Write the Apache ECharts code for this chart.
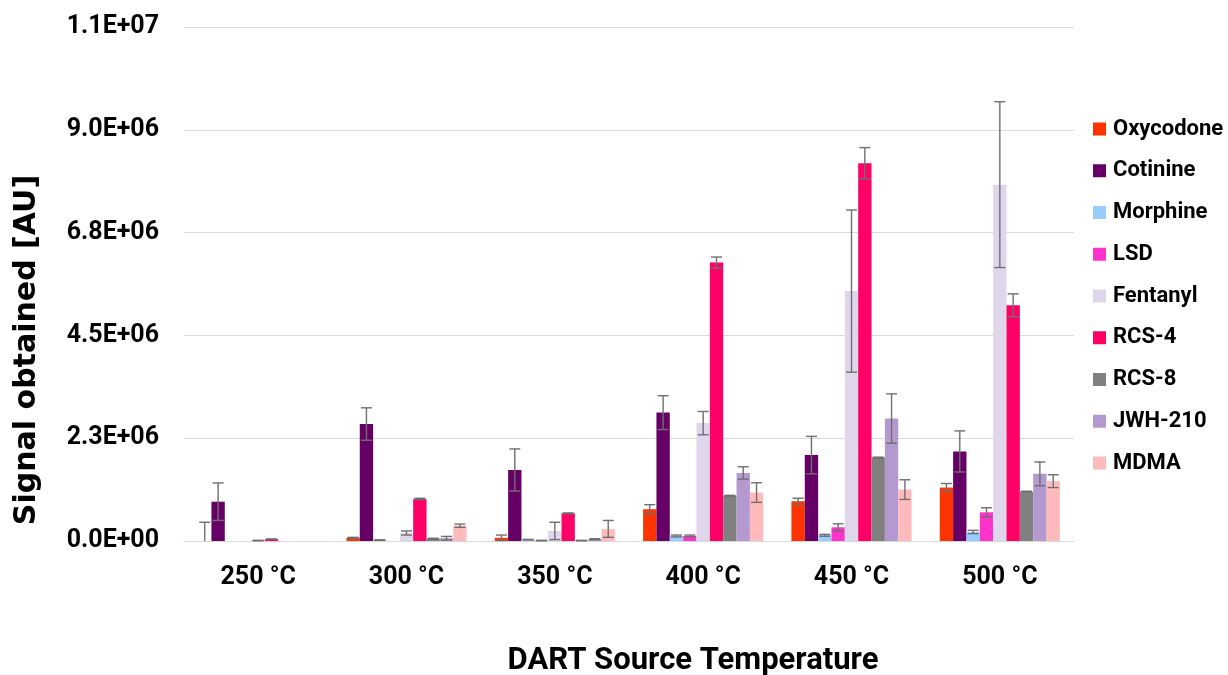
<!DOCTYPE html>
<html><head><meta charset="utf-8">
<script src="https://cdn.jsdelivr.net/npm/echarts@6/dist/echarts.min.js"></script>
<style>html,body{margin:0;padding:0;background:#fff}#c{width:1228px;height:675px}</style>
</head><body><div id="c"></div>
<script>
const categories = ['250 °C', '300 °C', '350 °C', '400 °C', '450 °C', '500 °C'];
const seriesNames = ['Oxycodone', 'Cotinine', 'Morphine', 'LSD', 'Fentanyl', 'RCS-4', 'RCS-8', 'JWH-210', 'MDMA'];
const seriesColors = ['#FF3300', '#660066', '#99CCFF', '#FF33CC', '#E0D6EC', '#FF0066', '#808080', '#B399D0', '#FFBBBB'];

const oxycodone = [0, 0.07e6, 0.07e6, 0.695e6, 0.87e6, 1.17e6];
const cotinine  = [0.86e6, 2.56e6, 1.555e6, 2.81e6, 1.88e6, 1.96e6];
const morphine  = [0, 0.02e6, 0.03e6, 0.11e6, 0.125e6, 0.197e6];
const lsd       = [0, 0, 0.01e6, 0.11e6, 0.30e6, 0.628e6];
const fentanyl  = [0.01e6, 0.175e6, 0.22e6, 2.58e6, 5.47e6, 7.80e6];
const rcs4      = [0.04e6, 0.92e6, 0.605e6, 6.095e6, 8.27e6, 5.16e6];
const rcs8      = [0, 0.05e6, 0.01e6, 0.99e6, 1.825e6, 1.08e6];
const jwh210    = [0, 0.06e6, 0.04e6, 1.49e6, 2.68e6, 1.47e6];
const mdma      = [0, 0.335e6, 0.265e6, 1.06e6, 1.125e6, 1.31e6];

const oxycodoneErr = [0.41e6, 0.01e6, 0.06e6, 0.10e6, 0.066e6, 0.088e6];
const cotinineErr  = [0.41e6, 0.355e6, 0.46e6, 0.37e6, 0.41e6, 0.45e6];
const morphineErr  = [0, 0.005e6, 0.005e6, 0.02e6, 0.02e6, 0.036e6];
const lsdErr       = [0, 0, 0.005e6, 0.02e6, 0.077e6, 0.10e6];
const fentanylErr  = [0.005e6, 0.045e6, 0.19e6, 0.255e6, 1.775e6, 1.815e6];
const rcs4Err      = [0.005e6, 0.015e6, 0.01e6, 0.12e6, 0.34e6, 0.25e6];
const rcs8Err      = [0, 0.01e6, 0.005e6, 0.01e6, 0.01e6, 0.01e6];
const jwh210Err    = [0, 0.04e6, 0.01e6, 0.135e6, 0.54e6, 0.26e6];
const mdmaErr      = [0, 0.035e6, 0.185e6, 0.215e6, 0.215e6, 0.14e6];

const yMin = 0, yMax = 11250000, yInterval = 2250000;

const allValues = [oxycodone, cotinine, morphine, lsd, fentanyl, rcs4, rcs8, jwh210, mdma];
const allErrors = [oxycodoneErr, cotinineErr, morphineErr, lsdErr, fentanylErr, rcs4Err, rcs8Err, jwh210Err, mdmaErr];

const FONT = 'Roboto';
const CAT_GAP = 0.19;
const N = seriesNames.length;

function fmtExp(v) {
  if (v === 0) return '0.0E+00';
  const s = v.toExponential(1);
  const parts = s.split('e');
  const sign = parts[1][0];
  let exp = parts[1].slice(1);
  if (exp.length < 2) exp = '0' + exp;
  return parts[0] + 'E' + sign + exp;
}

function errRender(sIdx) {
  return function (params, api) {
    const ci = api.value(0), v = api.value(1), e = api.value(2);
    if (!e) return null;
    const base = api.coord([ci, 0]);
    const bandW = api.size([1, 0])[0];
    const barW = bandW * (1 - CAT_GAP) / N;
    const x = base[0] + (sIdx - (N - 1) / 2) * barW;
    const lo = Math.max(0, v - e), hi = v + e;
    const yHi = api.coord([ci, hi])[1];
    const yLo = api.coord([ci, lo])[1];
    const cw = 5.5;
    const st = { stroke: '#6f6f6f', lineWidth: 1.4 };
    const children = [
      { type: 'line', shape: { x1: x, y1: yHi, x2: x, y2: yLo }, style: st },
      { type: 'line', shape: { x1: x - cw, y1: yHi, x2: x + cw, y2: yHi }, style: st }
    ];
    if (lo > 0) children.push({ type: 'line', shape: { x1: x - cw, y1: yLo, x2: x + cw, y2: yLo }, style: st });
    return { type: 'group', children: children };
  };
}

const series = [];
seriesNames.forEach((name, i) => {
  series.push({
    name: name,
    type: 'bar',
    data: allValues[i],
    itemStyle: { color: seriesColors[i] },
    barGap: '0%',
    barCategoryGap: (CAT_GAP * 100) + '%',
    emphasis: { disabled: true },
    z: 2
  });
});
seriesNames.forEach((name, i) => {
  series.push({
    name: name + ' err',
    type: 'custom',
    renderItem: errRender(i),
    data: categories.map((c, k) => [k, allValues[i][k], allErrors[i][k]]),
    encode: { x: 0, y: [1, 2] },
    z: 5,
    silent: true
  });
});

const chart = echarts.init(document.getElementById('c'), null, { renderer: 'canvas' });
chart.setOption({
  animation: false,
  backgroundColor: '#fff',
  grid: { left: 184, right: 154, top: 27, bottom: 134 },
  legend: {
    data: seriesNames,
    orient: 'vertical',
    left: 1093,
    top: 118,
    padding: 0,
    itemWidth: 13,
    itemHeight: 13,
    itemGap: 19.75,
    icon: 'rect',
    selectedMode: false,
    textStyle: { fontFamily: FONT, fontWeight: 'bold', fontSize: 22, color: '#000', lineHeight: 22, padding: [0, 0, 0, 2] }
  },
  xAxis: {
    type: 'category',
    data: categories,
    axisLine: { lineStyle: { color: '#d9d9d9', width: 1 } },
    axisTick: { show: false },
    axisLabel: { margin: 24, fontFamily: FONT, fontWeight: 'bold', fontSize: 25, color: '#000' }
  },
  yAxis: {
    type: 'value',
    min: yMin, max: yMax, interval: yInterval,
    axisLine: { show: false },
    axisTick: { show: false },
    splitLine: { lineStyle: { color: '#d9d9d9', width: 1 } },
    axisLabel: { margin: 25, fontFamily: FONT, fontWeight: 'bold', fontSize: 25, color: '#000', formatter: fmtExp }
  },
  graphic: [
    { type: 'text', x: 693, y: 661, style: { text: 'DART Source Temperature', font: 'bold 31px ' + FONT, fill: '#000', align: 'center', verticalAlign: 'middle' } },
    { type: 'text', x: 27, y: 350, rotation: Math.PI / 2, style: { text: 'Signal obtained [AU]', font: 'bold 30px "DejaVu Sans"', fill: '#000', align: 'center', verticalAlign: 'middle' } }
  ],
  series: series
});
</script>
</body></html>
